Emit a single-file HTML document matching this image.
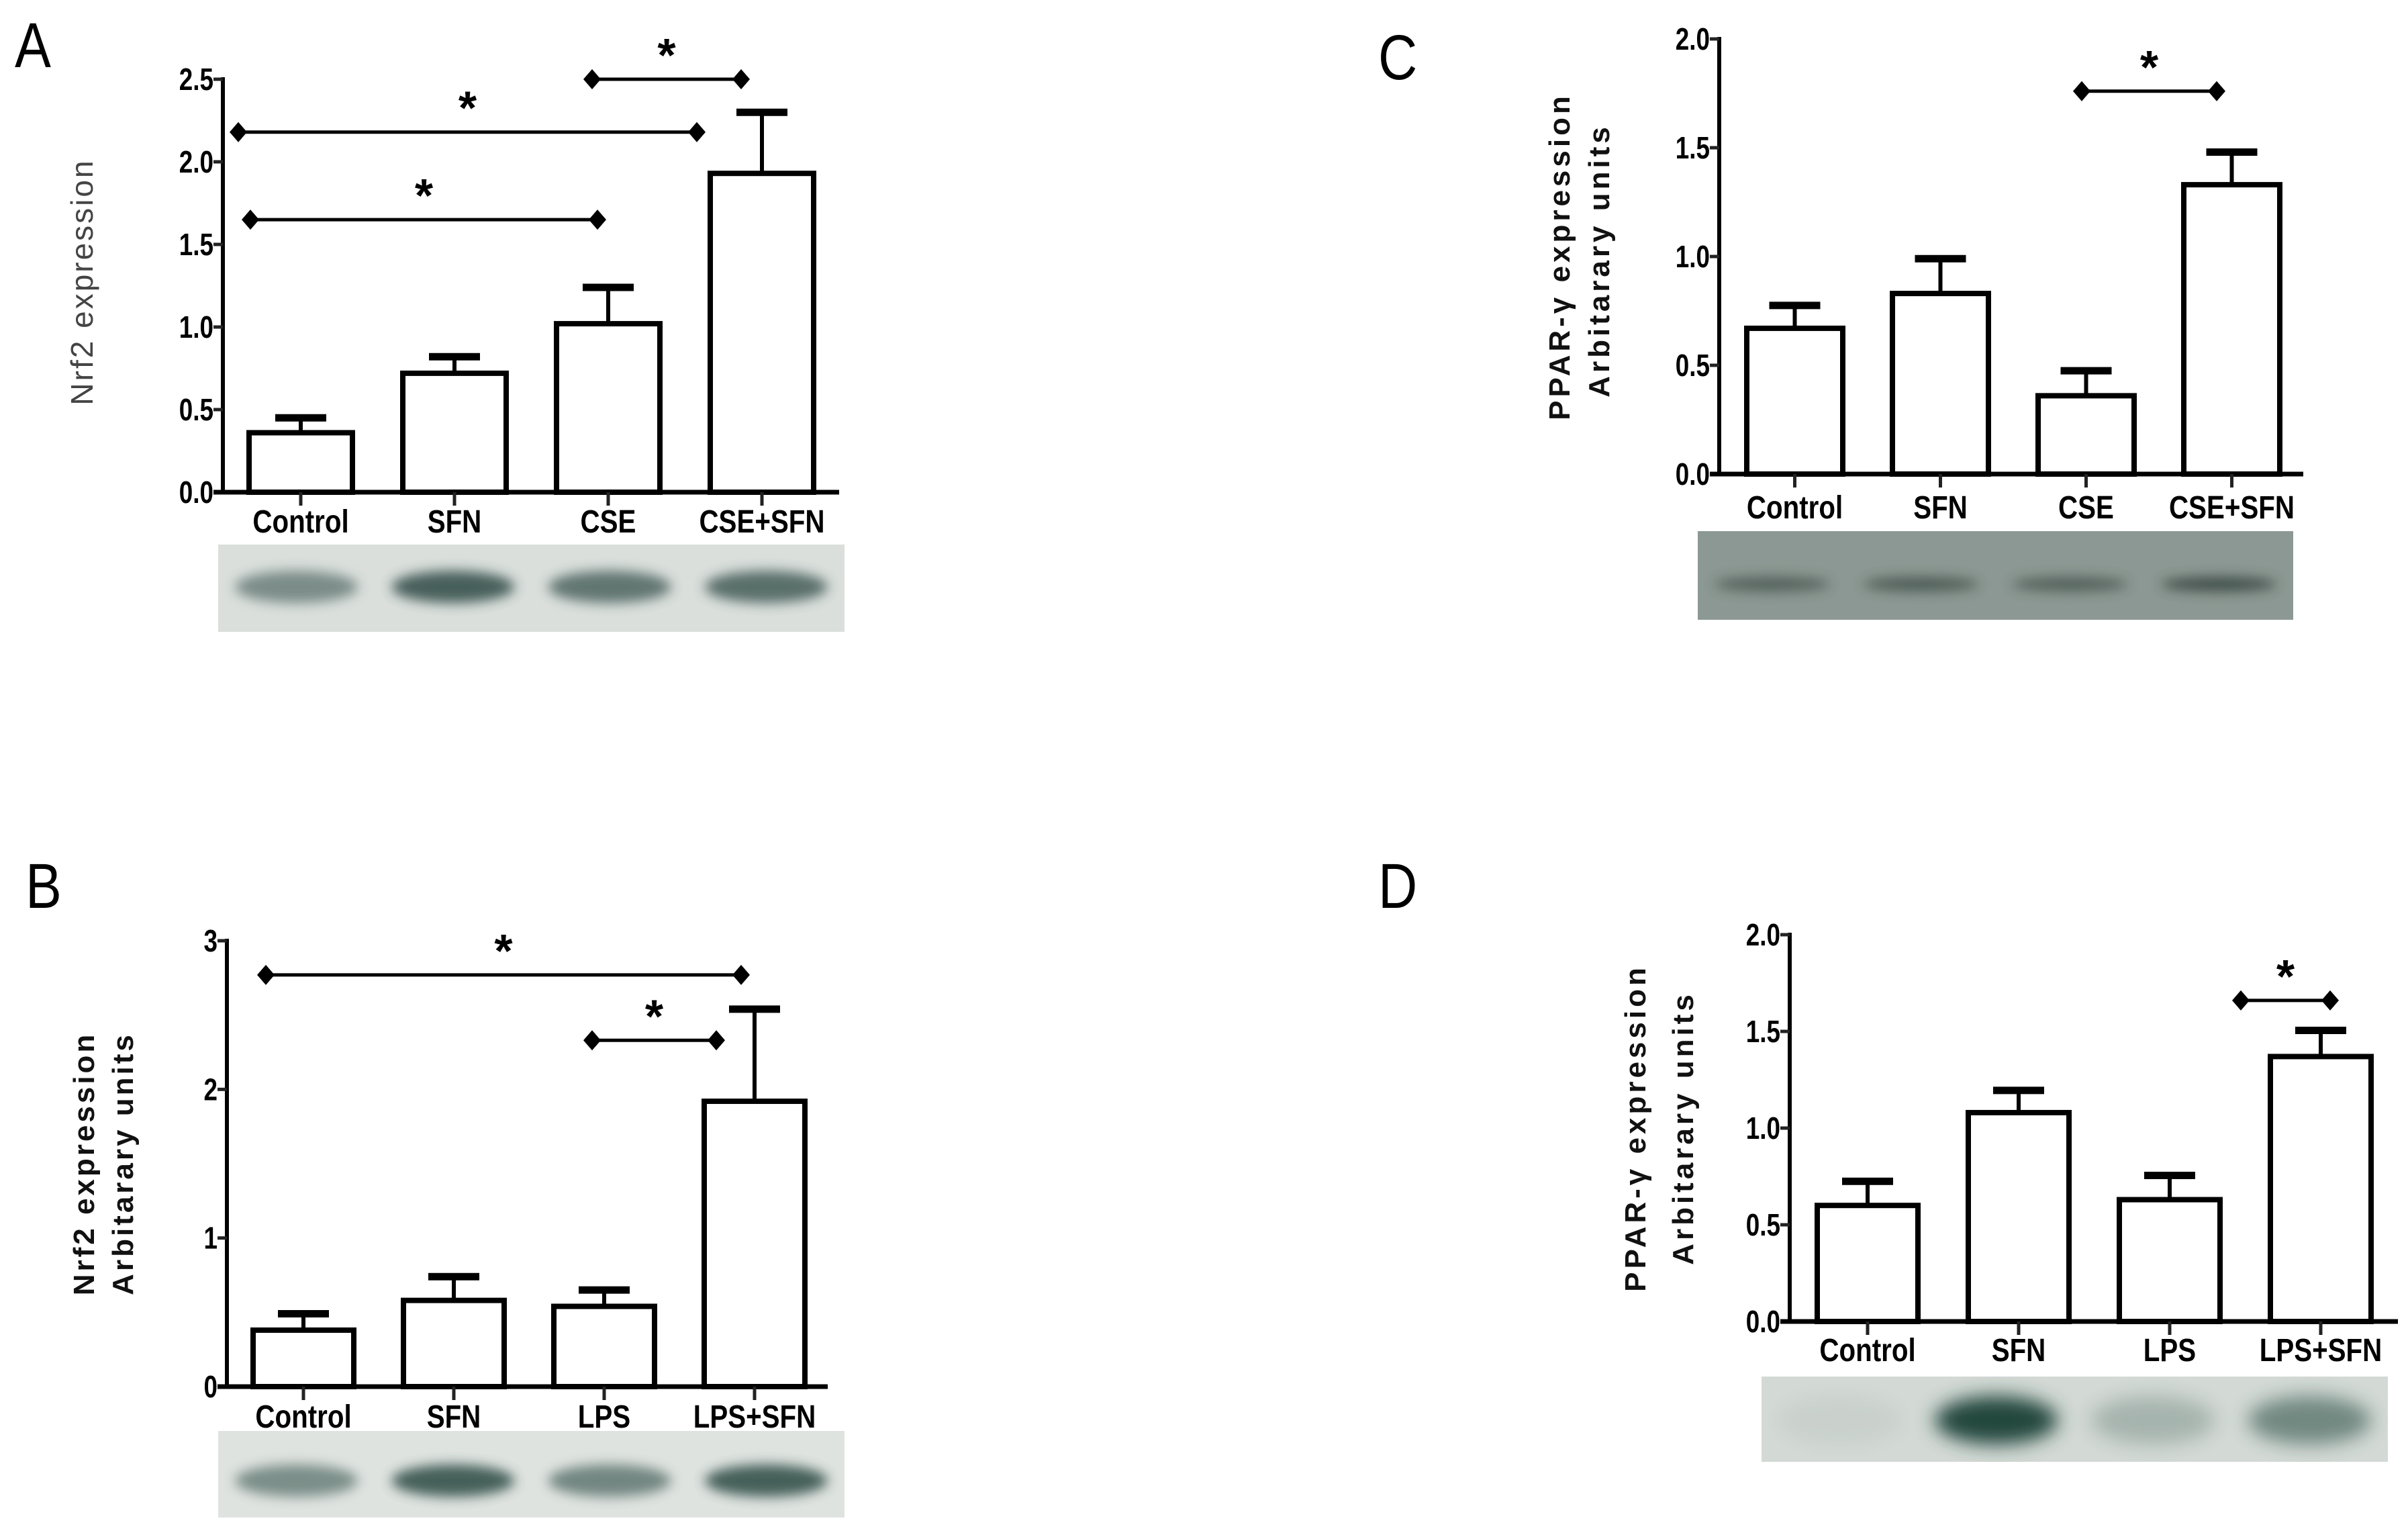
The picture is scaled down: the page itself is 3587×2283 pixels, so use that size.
<!DOCTYPE html>
<html><head><meta charset="utf-8">
<style>
html,body{margin:0;padding:0;background:#fff;}
svg{display:block;}
text{font-family:"Liberation Sans Narrow","Liberation Sans",sans-serif;}
</style></head>
<body>
<svg id="fig" width="3587" height="2283" viewBox="0 0 3587 2283" xmlns="http://www.w3.org/2000/svg">
<defs>
<filter id="blur" x="-30%" y="-100%" width="160%" height="300%"><feGaussianBlur stdDeviation="9"/></filter>
<filter id="blur2" x="-30%" y="-100%" width="160%" height="300%"><feGaussianBlur stdDeviation="14"/></filter>
</defs>
</svg>
<script>
// ---- data ----
const categoriesA = ["Control","SFN","CSE","CSE+SFN"];
const valuesA = [0.36, 0.72, 1.02, 1.93];
const errorsA = [0.09, 0.10, 0.22, 0.37];
const ticksA = ["0.0","0.5","1.0","1.5","2.0","2.5"];
const tickValsA = [0, 0.5, 1.0, 1.5, 2.0, 2.5];

const categoriesB = ["Control","SFN","LPS","LPS+SFN"];
const valuesB = [0.38, 0.58, 0.54, 1.92];
const errorsB = [0.11, 0.16, 0.11, 0.62];
const ticksB = ["0","1","2","3"];
const tickValsB = [0, 1, 2, 3];

const categoriesC = ["Control","SFN","CSE","CSE+SFN"];
const valuesC = [0.67, 0.83, 0.36, 1.33];
const errorsC = [0.105, 0.16, 0.115, 0.15];
const ticksC = ["0.0","0.5","1.0","1.5","2.0"];
const tickValsC = [0, 0.5, 1.0, 1.5, 2.0];

const categoriesD = ["Control","SFN","LPS","LPS+SFN"];
const valuesD = [0.60, 1.08, 0.63, 1.37];
const errorsD = [0.125, 0.115, 0.125, 0.135];
const ticksD = ["0.0","0.5","1.0","1.5","2.0"];
const tickValsD = [0, 0.5, 1.0, 1.5, 2.0];

// blot band intensities (0..1)
const bandsA = [0.55, 0.85, 0.7, 0.75];
const bandsB = [0.55, 0.85, 0.6, 0.85];
const bandsC = [0.6, 0.65, 0.6, 0.8];
const bandsD = [0.05, 1.0, 0.25, 0.55];

// significance brackets: [fromIndex, toIndex, value]
const sigA = [[2,3,2.5],[0,3,2.18],[0,2,1.65]];
const sigB = [[0,3,2.77],[2,3,2.33]];
const sigC = [[2,3,1.76]];
const sigD = [[3,3,1.66]];

const NS="http://www.w3.org/2000/svg";
const svg=document.getElementById('fig');
function mk(tag,attrs,parent){const e=document.createElementNS(NS,tag);for(const k in attrs)e.setAttribute(k,attrs[k]);(parent||svg).appendChild(e);return e;}
function narrow(t,f){try{const w=t.getComputedTextLength();if(w>0){t.setAttribute('textLength',(w*f).toFixed(1));t.setAttribute('lengthAdjust','spacingAndGlyphs');}}catch(e){}}

function panel(cfg){
  const g=mk('g',{});
  
  
  const y=v=>cfg.y0-(v-0)/(cfg.ymax)*(cfg.y0-cfg.ytop);
  const bw=cfg.bw;
  // panel letter
  const L=mk('text',{x:cfg.letter[0],y:cfg.letter[1],'font-size':95,'font-family':'Liberation Sans, sans-serif',fill:'#000'},g);
  L.textContent=cfg.id;
  
  
  narrow(L,0.85);
  // y axis
  const ax=mk('line',{x1:cfg.ax,y1:cfg.ytop-3,x2:cfg.ax,y2:cfg.y0+3,stroke:'#000','stroke-width':6},g);
  
  
  cfg.tickVals.forEach((tv,i)=>{
    const yy=y(tv);
    const t=mk('line',{x1:cfg.ax-14,y1:yy,x2:cfg.ax,y2:yy,stroke:'#222','stroke-width':5},g);
    
    
    const tl=mk('text',{x:cfg.ax-14,y:yy+16,'text-anchor':'end','font-size':46,'font-weight':'bold',fill:'#000'},g);
    tl.textContent=cfg.ticks[i];
    
    
    narrow(tl,0.8);
  });
  // x axis
  const xa=mk('line',{x1:cfg.ax-14,y1:cfg.y0,x2:cfg.xend,y2:cfg.y0,stroke:'#000','stroke-width':7},g);
  
  
  cfg.values.forEach((v,i)=>{
    const x0=cfg.bx0+i*cfg.step;
    const top=y(v), et=y(v+cfg.errors[i]);
    const el=mk('line',{x1:x0+bw/2,y1:top,x2:x0+bw/2,y2:et,stroke:'#000','stroke-width':6},g);
    
    
    const cap=mk('line',{x1:x0+bw/2-38,y1:et,x2:x0+bw/2+38,y2:et,stroke:'#000','stroke-width':11},g);
    
    
    const r=mk('rect',{x:x0,y:top,width:bw,height:cfg.y0-top,fill:'#fff',stroke:'#000','stroke-width':8},g);
    
    
    const xt=mk('line',{x1:x0+bw/2,y1:cfg.y0,x2:x0+bw/2,y2:cfg.y0+20,stroke:'#222','stroke-width':5},g);
    
    
    const lab=mk('text',{x:x0+bw/2,y:cfg.labY,'text-anchor':'middle','font-size':48,'font-weight':'bold',fill:'#000'},g);
    lab.textContent=cfg.cats[i];
    
    
    narrow(lab,0.84);
  });
  // significance
  cfg.sig.forEach((s,k)=>{
    const yy=y(s[2]);
    const xa1=cfg.sigX[k][0], xa2=cfg.sigX[k][1];
    const sl=mk('line',{x1:xa1,y1:yy,x2:xa2,y2:yy,stroke:'#000','stroke-width':5},g);
    
    
    [xa1,xa2].forEach(xx=>{
      const d=mk('polygon',{points:`${xx-13},${yy} ${xx},${yy-15} ${xx+13},${yy} ${xx},${yy+15}`,fill:'#000'},g);
      
      
    });
    const st=mk('text',{x:(xa1+xa2)/2,y:yy-12,'text-anchor':'middle','font-size':70,'font-weight':'bold',fill:'#000','font-family':'Liberation Sans, sans-serif'},g);
    st.textContent='*';
    
    
  });
  // y label
  const yl=mk('text',{transform:`translate(${cfg.ylab[0][0]},${cfg.ylab[0][1]}) rotate(-90)`,'text-anchor':'middle','font-size':cfg.ylabSize,'font-weight':cfg.ylabWeight,fill:cfg.ylabColor,'letter-spacing':cfg.ylabSpacing,'font-family':'Liberation Sans, sans-serif'},g);
  yl.textContent=cfg.ylabText[0];
  
  
  if(cfg.ylabText[1]){
    const y2=mk('text',{transform:`translate(${cfg.ylab[1][0]},${cfg.ylab[1][1]}) rotate(-90)`,'text-anchor':'middle','font-size':cfg.ylabSize,'font-weight':cfg.ylabWeight,fill:cfg.ylabColor,'letter-spacing':cfg.ylabSpacing,'font-family':'Liberation Sans, sans-serif'},g);
    y2.textContent=cfg.ylabText[1];
    
    
  }
  // blot
  const bl=cfg.blot;
  const bg=mk('g',{},g);
  
  
  mk('rect',{x:bl.x,y:bl.y,width:bl.w,height:bl.h,fill:bl.bg},bg);
  const cp='clip'+cfg.id;
  const c=mk('clipPath',{id:cp},bg);mk('rect',{x:bl.x,y:bl.y,width:bl.w,height:bl.h},c);
  const inner=mk('g',{'clip-path':`url(#${cp})`},bg);
  cfg.bands.forEach((b,i)=>{
    const e=mk('ellipse',{cx:bl.x+bl.w*(i+0.5)/4+bl.off,cy:bl.band,rx:bl.w/8-25,ry:bl.bh,fill:bl.dark,opacity:b,filter:bl.soft?'url(#blur2)':'url(#blur)'},inner);
    
    
  });
}

panel({id:'A',cats:categoriesA,values:valuesA,errors:errorsA,ticks:ticksA,tickVals:tickValsA,sig:sigA,bands:bandsA,
  sigX:[[882,1104],[355,1038],[373,890]],
  letter:[22,100],ax:332,y0:733,ytop:118,ymax:2.5,xend:1250,bx0:371,step:229,bw:154,labY:793,
  ylab:[[138,420]],ylabText:['Nrf2 expression'],ylabSize:46,ylabWeight:'normal',ylabColor:'#444',ylabSpacing:3,
  blot:{x:325,y:811,w:933,h:130,bg:'#dadfdc',dark:'#2e4a45',band:874,bh:24,off:0}});

panel({id:'B',cats:categoriesB,values:valuesB,errors:errorsB,ticks:ticksB,tickVals:tickValsB,sig:sigB,bands:bandsB,
  sigX:[[396,1104],[882,1067]],
  letter:[38,1352],ax:338,y0:2065,ytop:1401,ymax:3,xend:1233,bx0:377,step:224,bw:150,labY:2126,
  ylab:[[140,1733],[198,1733]],ylabText:['Nrf2 expression','Arbitarary units'],ylabSize:44,ylabWeight:'bold',ylabColor:'#111',ylabSpacing:4,
  blot:{x:325,y:2131,w:933,h:129,bg:'#dfe3e0',dark:'#2b4843',band:2205,bh:24,off:0}});

panel({id:'C',cats:categoriesC,values:valuesC,errors:errorsC,ticks:ticksC,tickVals:tickValsC,sig:sigC,bands:bandsC,
  sigX:[[3101,3302]],
  letter:[2053,118],ax:2561,y0:706,ytop:58,ymax:2.0,xend:3431,bx0:2602,step:217,bw:143,labY:772,
  ylab:[[2338,382],[2397,388]],ylabText:['PPAR-\u03B3 expression','Arbitarary units'],ylabSize:44,ylabWeight:'bold',ylabColor:'#111',ylabSpacing:5,
  blot:{x:2529,y:791,w:887,h:132,bg:'#8c9893',dark:'#2f3d38',band:870,bh:11,off:0}});

panel({id:'D',cats:categoriesD,values:valuesD,errors:errorsD,ticks:ticksD,tickVals:tickValsD,sig:sigD,bands:bandsD,
  sigX:[[3338,3471]],
  letter:[2053,1352],ax:2666,y0:1968,ytop:1392,ymax:2.0,xend:3572,bx0:2707,step:225,bw:150,labY:2027,
  ylab:[[2451,1680],[2522,1680]],ylabText:['PPAR-\u03B3 expression','Arbitarary units'],ylabSize:44,ylabWeight:'bold',ylabColor:'#111',ylabSpacing:5,
  blot:{x:2624,y:2050,w:933,h:127,bg:'#d3d9d5',dark:'#22463d',band:2115,bh:36,off:0,soft:true}});
</script>
</body></html>
